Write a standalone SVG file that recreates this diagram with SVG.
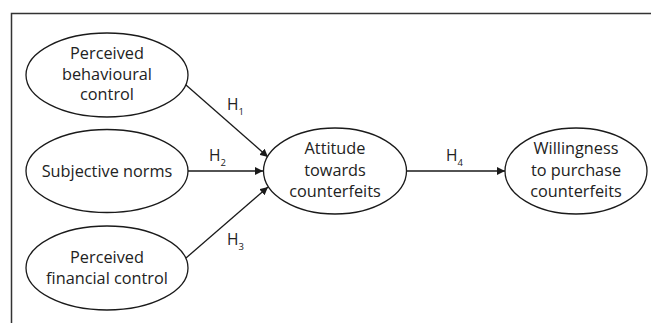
<svg xmlns="http://www.w3.org/2000/svg" width="651" height="323" viewBox="0 0 651 323">
<defs>
<marker id="ah" viewBox="0 0 10 10" refX="10" refY="5" markerWidth="8" markerHeight="8" markerUnits="userSpaceOnUse" orient="auto">
<path d="M0,0 L10,5 L0,10 z" fill="#1a1a1a"/>
</marker>
</defs>
<style>
.node ellipse{fill:#fff;stroke:#1a1a1a;stroke-width:1.3}
.lbl{font-family:"Open Sans","Liberation Sans",sans-serif;font-size:16.3px;fill:#222;text-anchor:middle}
.h{font-family:"Open Sans","Liberation Sans",sans-serif;font-size:15.5px;fill:#222}
.sub{font-size:9.5px}
.edges line{stroke:#1a1a1a;stroke-width:1.3;marker-end:url(#ah)}
</style>
<rect width="651" height="323" fill="#fff"/>
<path d="M11.5,323 V13.5 H651" fill="none" stroke="#333" stroke-width="1.5"/>
<g class="edges">
<line x1="186" y1="85" x2="268" y2="157"/>
<line x1="188" y1="171" x2="263" y2="171"/>
<line x1="186" y1="258" x2="268" y2="187"/>
<line x1="406" y1="171" x2="505" y2="171"/>
<text class="h" x="227" y="110">H<tspan class="sub" dy="5">1</tspan></text>
<text class="h" x="209" y="161">H<tspan class="sub" dy="5">2</tspan></text>
<text class="h" x="227" y="245">H<tspan class="sub" dy="5">3</tspan></text>
<text class="h" x="446" y="161">H<tspan class="sub" dy="5">4</tspan></text>
</g>
<g id="pbc" class="node">
<ellipse cx="107" cy="75" rx="81" ry="42"/>
<text class="lbl" x="107" y="59">Perceived</text>
<text class="lbl" x="107" y="80">behavioural</text>
<text class="lbl" x="107" y="100">control</text>
</g>
<g id="sn" class="node">
<ellipse cx="107" cy="171" rx="81" ry="41.5"/>
<text class="lbl" x="107" y="177">Subjective norms</text>
</g>
<g id="pfc" class="node">
<ellipse cx="107" cy="268" rx="81" ry="42"/>
<text class="lbl" x="107" y="263">Perceived</text>
<text class="lbl" x="107" y="284">financial control</text>
</g>
<g id="att" class="node">
<ellipse cx="335" cy="171" rx="71.5" ry="43"/>
<text class="lbl" x="335" y="154">Attitude</text>
<text class="lbl" x="335" y="176">towards</text>
<text class="lbl" x="335" y="197">counterfeits</text>
</g>
<g id="will" class="node">
<ellipse cx="576" cy="171" rx="71" ry="43"/>
<text class="lbl" x="576" y="154">Willingness</text>
<text class="lbl" x="576" y="176">to purchase</text>
<text class="lbl" x="576" y="197">counterfeits</text>
</g>
</svg>
